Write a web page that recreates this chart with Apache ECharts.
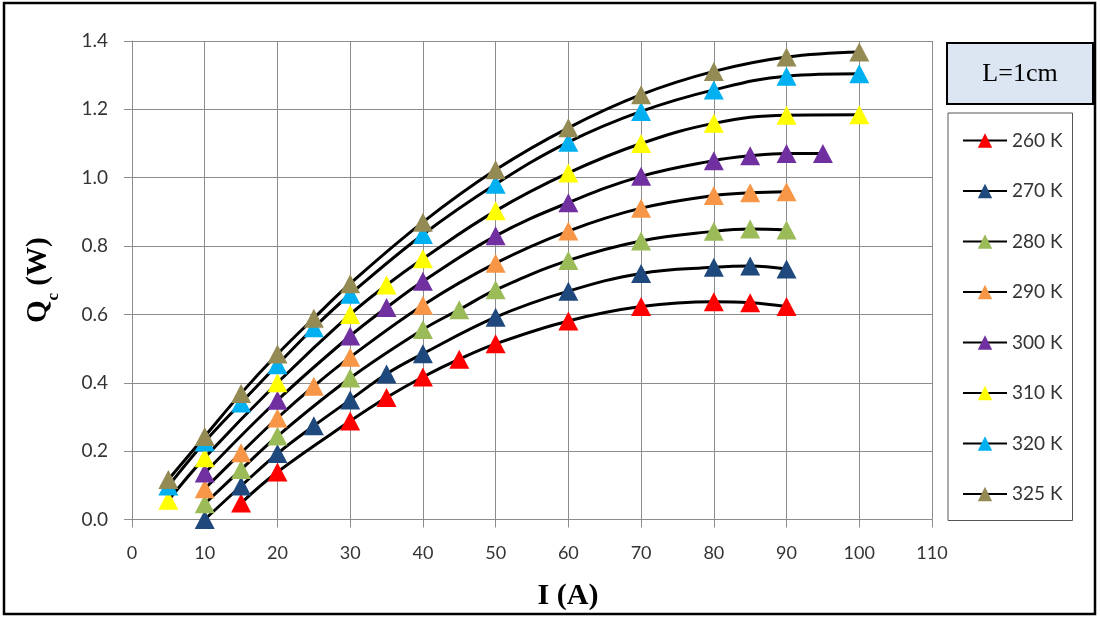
<!DOCTYPE html>
<html>
<head>
<meta charset="utf-8">
<script src="https://cdn.jsdelivr.net/npm/echarts@6/dist/echarts.min.js"></script>
<style>
body { margin: 0; background: #fff; }
#chart_container { width: 1100px; height: 619px; }
</style>
</head>
<body>
<div id="chart_container"></div>
<script>
// current I (A) and cooling power Qc (W) per hot-side temperature
const names = ["260 K", "270 K", "280 K", "290 K", "300 K", "310 K", "320 K", "325 K"]
const colors = ["#ff0000", "#1f497d", "#9bbb59", "#f79646", "#7030a0", "#ffff00", "#00b0f0", "#948a54"]

const I_260 = [15, 20, 30, 35, 40, 45, 50, 60, 70, 80, 85, 90]
const Q_260 = [0.048, 0.139, 0.288, 0.357, 0.417, 0.469, 0.514, 0.581, 0.623, 0.637, 0.634, 0.623]
const I_270 = [10, 15, 20, 25, 30, 35, 40, 50, 60, 70, 80, 85, 90]
const Q_270 = [0.0, 0.098, 0.193, 0.274, 0.35, 0.426, 0.485, 0.592, 0.668, 0.72, 0.738, 0.742, 0.733]
const I_280 = [10, 15, 20, 30, 40, 45, 50, 60, 70, 80, 85, 90]
const Q_280 = [0.046, 0.146, 0.244, 0.414, 0.556, 0.614, 0.672, 0.758, 0.815, 0.843, 0.85, 0.847]
const I_290 = [10, 15, 20, 25, 30, 40, 50, 60, 70, 80, 85, 90]
const Q_290 = [0.09, 0.195, 0.297, 0.39, 0.475, 0.627, 0.75, 0.844, 0.911, 0.948, 0.956, 0.959]
const I_300 = [10, 20, 30, 35, 40, 50, 60, 70, 80, 85, 90, 95]
const Q_300 = [0.136, 0.349, 0.537, 0.62, 0.697, 0.83, 0.927, 1.004, 1.05, 1.064, 1.071, 1.071]
const I_310 = [5, 10, 20, 30, 35, 40, 50, 60, 70, 80, 90, 100]
const Q_310 = [0.056, 0.181, 0.4, 0.6, 0.686, 0.763, 0.903, 1.014, 1.1, 1.159, 1.183, 1.184]
const I_320 = [5, 10, 15, 20, 25, 30, 40, 50, 60, 70, 80, 90, 100]
const Q_320 = [0.098, 0.227, 0.341, 0.453, 0.561, 0.659, 0.834, 0.981, 1.104, 1.194, 1.257, 1.297, 1.304]
const I_325 = [5, 10, 15, 20, 25, 30, 40, 50, 60, 70, 80, 90, 100]
const Q_325 = [0.117, 0.243, 0.369, 0.484, 0.589, 0.69, 0.87, 1.023, 1.146, 1.243, 1.311, 1.353, 1.368]

const xs = [I_260, I_270, I_280, I_290, I_300, I_310, I_320, I_325]
const ys = [Q_260, Q_270, Q_280, Q_290, Q_300, Q_310, Q_320, Q_325]

const gridColor = "#8c8c8c"
const labelFont = "Lato, 'Liberation Sans', sans-serif"
const serifFont = "'Liberation Serif', 'DejaVu Serif', serif"

const series = names.map((name, i) => ({
	name,
	type: "line",
	smooth: 0.4,
	symbol: "triangle",
	symbolSize: [20, 19],
	showAllSymbol: true,
	lineStyle: { color: "#000", width: 3 },
	itemStyle: { color: colors[i] },
	emphasis: { disabled: true },
	data: xs[i].map((x, k) => [x, ys[i][k]]),
}))

const chart = echarts.init(document.getElementById("chart_container"))
chart.setOption({
	animation: false,
	grid: { left: 132, right: 168, top: 41, bottom: 99.5 },
	xAxis: {
		type: "value",
		min: 0,
		max: 110,
		interval: 10,
		name: "I (A)",
		nameLocation: "middle",
		nameGap: 62,
		nameTextStyle: { fontFamily: serifFont, fontWeight: "bold", fontSize: 30, color: "#000", padding: [0, 0, 0, 72] },
		axisLine: { lineStyle: { color: gridColor } },
		axisTick: { show: true, length: 8, lineStyle: { color: gridColor } },
		axisLabel: { margin: 25, fontFamily: labelFont, fontSize: 18, color: "#333" },
		splitLine: { show: true, lineStyle: { color: gridColor, width: 1 } },
	},
	yAxis: {
		type: "value",
		min: 0,
		max: 1.4,
		interval: 0.2,
		name: "{q|Q}{s|c}{q| (W)}",
		nameLocation: "middle",
		nameGap: 76,
		nameTextStyle: {
			rich: {
				q: { fontFamily: serifFont, fontWeight: "bold", fontSize: 29, color: "#000", lineHeight: 34 },
				s: { fontFamily: serifFont, fontWeight: "bold", fontSize: 17, color: "#000", lineHeight: 34, verticalAlign: "bottom", padding: [0, 0, -6, 0] },
			},
		},
		axisLine: { show: true, lineStyle: { color: gridColor } },
		axisTick: { show: true, length: 8, lineStyle: { color: gridColor } },
		axisLabel: { margin: 24, fontFamily: labelFont, fontSize: 19, color: "#333", formatter: (v) => v.toFixed(1) },
		splitLine: { show: true, lineStyle: { color: gridColor, width: 1 } },
	},
	legend: {
		orient: "vertical",
		left: 948,
		top: 113,
		width: 144,
		padding: [18, 10, 17, 14],
		itemWidth: 44,
		itemHeight: 18,
		itemGap: 31.5,
		borderColor: "#555",
		borderWidth: 1,
		selectedMode: false,
		textStyle: { fontFamily: labelFont, fontSize: 19, color: "#333", lineHeight: 18 },
		data: names,
	},
	graphic: [
		{
			type: "rect",
			shape: { x: 4, y: 3, width: 1091, height: 611 },
			style: { fill: "none", stroke: "#000", lineWidth: 2.5 },
			silent: true,
		},
		{
			type: "group",
			left: 946,
			top: 42,
			children: [
				{
					type: "rect",
					shape: { x: 0, y: 0, width: 146, height: 61 },
					style: { fill: "#dce6f2", stroke: "#000", lineWidth: 2 },
				},
				{
					type: "text",
					x: 73,
					y: 31,
					style: { text: "L=1cm", fontFamily: serifFont, fontSize: 26, fill: "#000", align: "center", verticalAlign: "middle" },
				},
			],
		},
	],
	series,
})
</script>
</body>
</html>
